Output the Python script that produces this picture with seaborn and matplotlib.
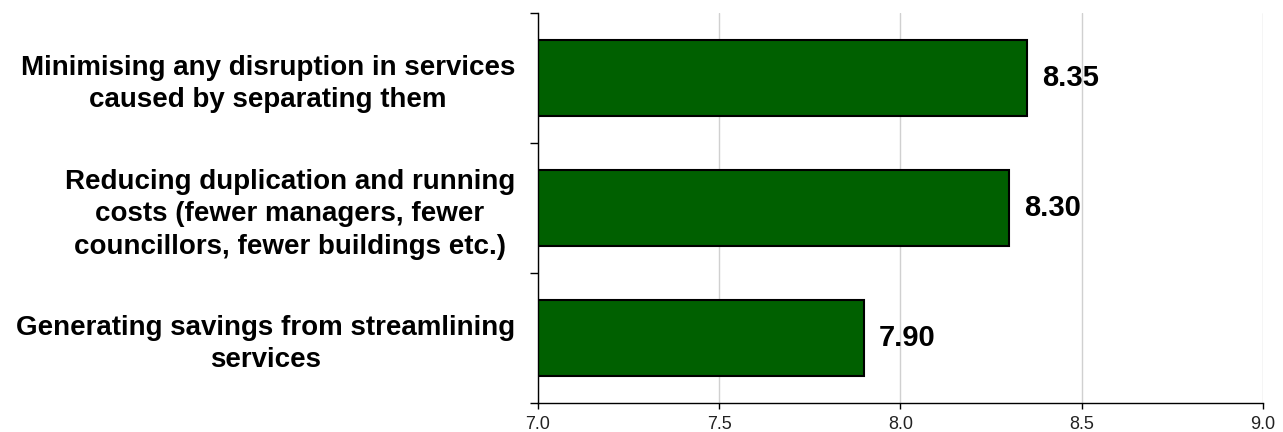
import matplotlib
matplotlib.use("Agg")
import matplotlib.pyplot as plt
import seaborn as sns
import pandas as pd

categories = [
    "Minimising any disruption in services\ncaused by separating them",
    "Reducing duplication and running\ncosts (fewer managers, fewer\ncouncillors, fewer buildings etc.)",
    "Generating savings from streamlining\nservices",
]
scores = [8.35, 8.30, 7.90]
x_ticks = [7.0, 7.5, 8.0, 8.5, 9.0]

sns.set_theme(style="white")
plt.rcParams["font.family"] = ["Liberation Sans", "DejaVu Sans"]

df = pd.DataFrame({"category": categories, "score": scores})

fig = plt.figure(figsize=(12.83, 4.32), dpi=100)
ax = fig.add_axes([0.4193, 0.0671, 0.5651, 0.9029])

sns.barplot(data=df, x="score", y="category", orient="h", ax=ax,
            color="#006000", saturation=1, width=0.585,
            edgecolor="black", linewidth=1.5)

ax.set_xlim(7.0, 9.0)
ax.set_ylim(2.5, -0.5)
ax.set_xticks(x_ticks)
ax.set_xticklabels([f"{t:.1f}" for t in x_ticks], fontsize=13, color="#222222")
ax.set_xlabel("")
ax.set_ylabel("")

ax.xaxis.grid(True, color="#d0d0d0", linewidth=1)
ax.set_axisbelow(True)

for side in ("top", "right"):
    ax.spines[side].set_visible(False)
for side in ("left", "bottom"):
    ax.spines[side].set_color("black")
    ax.spines[side].set_linewidth(1)

ax.tick_params(axis="x", length=4, width=1, color="black", bottom=True, pad=5)
ax.tick_params(axis="y", which="major", length=0, pad=16.5)
ax.set_yticks([-0.5, 0.5, 1.5, 2.5], minor=True)
ax.tick_params(axis="y", which="minor", length=6, width=1, color="black", left=True)

for lbl in ax.get_yticklabels():
    lbl.set_fontsize(20)
    lbl.set_fontweight("bold")
    lbl.set_multialignment("center")
    lbl.set_linespacing(1.32)
    lbl.set_color("black")

for i, v in enumerate(scores):
    ax.text(v + 0.04, i, f"{v:.2f}", va="center", ha="left",
            fontsize=21, fontweight="bold", color="black")

fig.savefig("out.png", dpi=100)
